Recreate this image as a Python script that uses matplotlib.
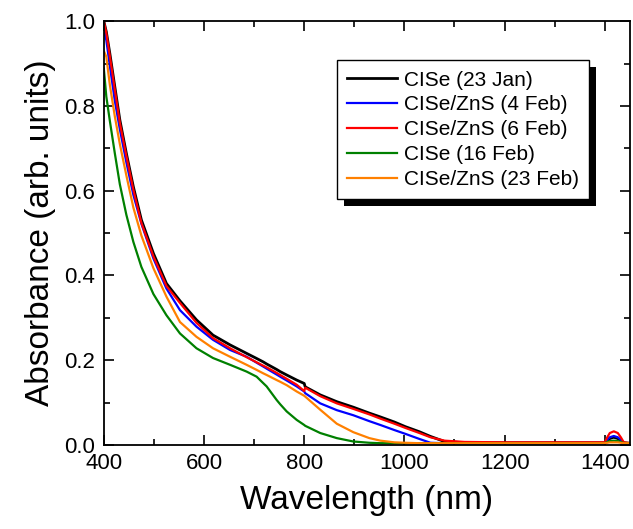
import matplotlib
matplotlib.use("Agg")
import matplotlib.pyplot as plt
import matplotlib.patheffects as pe
from matplotlib.ticker import MultipleLocator

plt.rcParams['font.family'] = ['Liberation Sans', 'DejaVu Sans']

# wavelength grid (nm)
wl = [400, 405, 412, 422, 432, 445, 459, 475, 499, 525, 552, 585, 618, 652, 685,
      705, 718, 725, 745, 752, 765, 785, 800, 802, 832, 865, 898, 930, 952, 980,
      1002, 1030, 1052, 1080, 1120, 1200, 1300, 1400, 1405, 1410, 1418, 1426, 1432,
      1438, 1450]

cise_23jan = [1.0, 0.975, 0.924, 0.845, 0.767, 0.688, 0.609, 0.531, 0.452, 0.381, 0.340,
              0.295, 0.259, 0.236, 0.216, 0.204, 0.196, 0.191, 0.178, 0.173, 0.165, 0.153,
              0.145, 0.137, 0.118, 0.102, 0.089, 0.075, 0.066, 0.054, 0.043, 0.031, 0.020,
              0.008, 0.005, 0.005, 0.005, 0.005, 0.010, 0.015, 0.018, 0.015, 0.010, 0.005,
              0.004]
zns_4feb = [0.98, 0.955, 0.895, 0.812, 0.745, 0.667, 0.590, 0.522, 0.440, 0.369, 0.318,
            0.279, 0.248, 0.224, 0.208, 0.194, 0.185, 0.180, 0.166, 0.161, 0.152, 0.138,
            0.126, 0.122, 0.098, 0.082, 0.070, 0.056, 0.047, 0.035, 0.026, 0.014, 0.005,
            0.004, 0.004, 0.004, 0.004, 0.004, 0.012, 0.018, 0.021, 0.018, 0.012, 0.004,
            0.004]
zns_6feb = [1.0, 0.972, 0.918, 0.838, 0.760, 0.682, 0.602, 0.524, 0.445, 0.375, 0.335,
            0.288, 0.252, 0.228, 0.207, 0.195, 0.187, 0.183, 0.170, 0.165, 0.156, 0.142,
            0.127, 0.135, 0.115, 0.098, 0.085, 0.072, 0.062, 0.050, 0.040, 0.028, 0.018,
            0.010, 0.007, 0.006, 0.006, 0.006, 0.018, 0.028, 0.032, 0.028, 0.018, 0.006,
            0.004]
cise_16feb = [0.888, 0.822, 0.765, 0.688, 0.615, 0.543, 0.479, 0.420, 0.356, 0.306, 0.263,
              0.228, 0.205, 0.189, 0.173, 0.161, 0.146, 0.138, 0.106, 0.096, 0.079, 0.059,
              0.047, 0.045, 0.028, 0.016, 0.008, 0.005, 0.004, 0.004, 0.004, 0.004, 0.004,
              0.004, 0.004, 0.004, 0.004, 0.004, 0.007, 0.009, 0.010, 0.009, 0.007, 0.004,
              0.004]
zns_23feb = [0.93, 0.916, 0.850, 0.775, 0.710, 0.636, 0.560, 0.494, 0.417, 0.350, 0.290,
             0.255, 0.228, 0.208, 0.189, 0.177, 0.169, 0.165, 0.153, 0.149, 0.141, 0.126,
             0.116, 0.114, 0.083, 0.050, 0.030, 0.016, 0.010, 0.006, 0.005, 0.004, 0.004,
             0.004, 0.004, 0.004, 0.004, 0.004, 0.005, 0.006, 0.006, 0.006, 0.005, 0.004,
             0.004]

series = [
    ("CISe (23 Jan)", cise_23jan, "black", 2.0),
    ("CISe/ZnS (4 Feb)", zns_4feb, "#0000ff", 1.6),
    ("CISe/ZnS (6 Feb)", zns_6feb, "#ff0000", 1.6),
    ("CISe (16 Feb)", cise_16feb, "#008000", 1.6),
    ("CISe/ZnS (23 Feb)", zns_23feb, "#ff8000", 1.6),
]

fig = plt.figure(figsize=(6.33, 5.29), dpi=100)
ax = fig.add_axes([0.164, 0.159, 0.831, 0.801])

for label, vals, col, lw in series:
    ax.plot(wl, vals, color=col, lw=lw, label=label)

ax.set_xlim(400, 1450)
ax.set_ylim(0, 1.0)
ax.xaxis.set_major_locator(MultipleLocator(200))
ax.xaxis.set_minor_locator(MultipleLocator(100))
ax.yaxis.set_major_locator(MultipleLocator(0.2))
ax.yaxis.set_minor_locator(MultipleLocator(0.1))
ax.tick_params(which='both', direction='in', top=True, right=True, width=1.2)
ax.tick_params(which='major', length=7, labelsize=16, pad=6)
ax.tick_params(which='minor', length=4)
for s in ax.spines.values():
    s.set_linewidth(1.3)

ax.set_xlabel("Wavelength (nm)", fontsize=24, labelpad=8)
ax.set_ylabel("Absorbance (arb. units)", fontsize=24, labelpad=6)

leg = ax.legend(loc='upper left', bbox_to_anchor=(0.443, 0.908), borderaxespad=0,
                fontsize=15, frameon=True, fancybox=False, edgecolor='black',
                handlelength=2.4, handletextpad=0.3, labelspacing=0.28,
                borderpad=0.5, framealpha=1)
leg.get_frame().set_linewidth(1.0)
leg.get_frame().set_path_effects([
    pe.SimplePatchShadow(offset=(5, -5), shadow_rgbFace='black', alpha=1.0),
    pe.Normal()])

fig.savefig("out.png", dpi=100)
